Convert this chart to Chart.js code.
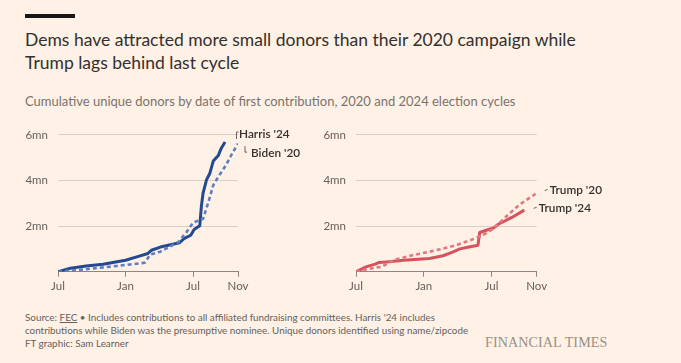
<!DOCTYPE html>
<html>
<head>
<meta charset="utf-8">
<script src="https://cdn.jsdelivr.net/npm/chart.js@4.4.1/dist/chart.umd.min.js"></script>
<style>
  html, body { margin:0; padding:0; background:#fff1e5; }
  body { width:681px; height:363px; position:relative; overflow:hidden; font-family: Lato, "Open Sans", sans-serif; }
  #bar { position:absolute; left:25px; top:14px; width:50px; height:3.5px; background:#1a1817; }
  #title { position:absolute; left:25px; top:28px; font-size:17.5px; line-height:23px; color:#33302e; letter-spacing:0px; white-space:nowrap; }
  #sub { position:absolute; left:25px; top:93px; font-size:13px; color:#7a736d; white-space:nowrap; }
  #src { position:absolute; left:25px; top:311px; font-size:9.85px; line-height:13px; color:#66605c; white-space:nowrap; }
  #src u { text-decoration: underline; }
  #ft { position:absolute; left:485px; top:334px; font-family:"Liberation Serif","DejaVu Serif",serif; font-size:15px; color:#999089; letter-spacing:0.1px; transform:scaleX(0.94); transform-origin:left; }
  .cw { position:absolute; top:118px; width:320px; height:185px; }
</style>
</head>
<body>
<div id="bar"></div>
<div id="title">Dems have attracted more small donors than their 2020 campaign while<br>Trump lags behind last cycle</div>
<div id="sub">Cumulative unique donors by date of first contribution, 2020 and 2024 election cycles</div>
<div id="src">Source: <u>FEC</u> • Includes contributions to all affiliated fundraising committees. Harris '24 includes<br>contributions while Biden was the presumptive nominee. Unique donors identified using name/zipcode<br>FT graphic: Sam Learner</div>
<div id="ft">FINANCIAL TIMES</div>
<div class="cw" style="left:0px;"><canvas id="c1" width="320" height="185"></canvas></div>
<div class="cw" style="left:300px;"><canvas id="c2" width="320" height="185"></canvas></div>
<script>
// months since 1 July of the year before the election; values in millions of donors
const xTickValues = [0, 6, 12, 16];
const xTickLabels = ["Jul", "Jan", "Jul", "Nov"];
const yTickValues = [0, 2, 4, 6];
const yTickLabels = ["", "2mn", "4mn", "6mn"];

const harris24 = [[0,0],[1.1,0.15],[2.5,0.25],[4,0.33],[6,0.5],[7,0.65],[8,0.8],[8.3,0.94],[9.1,1.08],[10,1.18],[10.8,1.27],[11.2,1.45],[11.8,1.6],[12.1,1.85],[12.6,2.02],[12.75,2.9],[12.9,3.46],[13.2,4.03],[13.5,4.32],[13.8,4.85],[14.25,5.1],[14.5,5.4],[14.85,5.69]];
const biden20 = [[0,0],[2.3,0.1],[5.2,0.25],[7.7,0.39],[8.2,0.75],[9.1,0.88],[10.7,1.3],[11.4,1.72],[12.0,2.15],[12.9,2.32],[13.4,3.1],[13.8,3.8],[14.3,4.2],[14.9,4.65],[15.5,5.2],[16,5.62]];
const trump24 = [[0,0],[0.95,0.22],[1.7,0.33],[2,0.4],[2.7,0.43],[4.2,0.5],[6.5,0.58],[7.7,0.7],[8.5,0.85],[9.2,1.0],[10.0,1.08],[10.8,1.16],[10.95,1.72],[11.6,1.83],[12.2,1.92],[12.6,2.08],[13.8,2.38],[14.9,2.7]];
const trump20 = [[0,0],[1.2,0.13],[2.3,0.22],[3.0,0.42],[3.6,0.55],[5,0.72],[7,0.93],[8.8,1.15],[10.5,1.45],[11.5,1.68],[12.2,1.9],[13.3,2.42],[14.5,2.95],[16,3.45]];

const labelsLeft = [
  {text:"Harris '24", x:16, y:6.04, dx:1, kind:"top"},
  {text:"Biden '20", x:16, y:5.2, dx:13, kind:"bottom"}
];
const labelsRight = [
  {text:"Trump '20", x:16, y:3.56, dx:13, kind:"dash"},
  {text:"Trump '24", x:16, y:2.78, dx:2, kind:"dash"}
];

const toPts = a => a.map(p => ({x:p[0], y:p[1]}));
const FONT = "Lato, 'Open Sans', sans-serif";

const labelPlugin = {
  id: 'lineLabels',
  afterDatasetsDraw(chart, args, opts) {
    const ctx = chart.ctx, xs = chart.scales.x, ys = chart.scales.y;
    ctx.save();
    ctx.font = "600 11.8px " + FONT;
    ctx.fillStyle = "#33302e";
    ctx.strokeStyle = "#66605c";
    ctx.lineWidth = 1;
    ctx.textBaseline = "middle";
    for (const l of opts.items) {
      const px = xs.getPixelForValue(l.x) + l.dx;
      const py = ys.getPixelForValue(l.y);
      ctx.beginPath();
      if (l.kind === "top") {
        ctx.moveTo(px - 2.5, py + 5); ctx.lineTo(px - 2.5, py - 2); ctx.lineTo(px - 0.5, py - 2);
      } else if (l.kind === "bottom") {
        ctx.moveTo(px - 6, py - 7); ctx.lineTo(px - 6, py - 1); ctx.lineTo(px - 4, py - 1);
      } else {
        ctx.moveTo(px - 5, py); ctx.lineTo(px - 2, py - 1);
      }
      ctx.stroke();
      ctx.fillText(l.text, px, py);
    }
    ctx.restore();
  }
};

function makeChart(id, datasets, items, yWidth, padRight) {
  return new Chart(document.getElementById(id), {
    type: 'line',
    data: { datasets },
    options: {
      responsive: false,
      animation: false,
      layout: { padding: { left: 0, right: padRight, top: 14.7, bottom: 0 } },
      plugins: { legend: { display: false }, tooltip: { enabled: false }, lineLabels: { items } },
      elements: { point: { radius: 0 }, line: { tension: 0, borderCapStyle: 'butt', borderJoinStyle: 'round' } },
      scales: {
        x: {
          type: 'linear', min: 0, max: 16,
          afterBuildTicks: s => { s.ticks = xTickValues.map(v => ({value: v})); },
          afterFit: s => { s.height = 31.3; },
          ticks: { callback: (v) => xTickLabels[xTickValues.indexOf(v)], color: '#66605c', font: { family: FONT, size: 11.5 }, padding: 3, maxRotation: 0, autoSkip: false },
          grid: { drawOnChartArea: false, drawTicks: true, tickLength: 5, color: '#8e8781', lineWidth: 1 },
          border: { display: true, color: '#8e8781', width: 1 }
        },
        y: {
          min: 0, max: 6,
          afterBuildTicks: s => { s.ticks = yTickValues.map(v => ({value: v})); },
          afterFit: s => { s.width = yWidth; },
          ticks: { callback: (v) => yTickLabels[yTickValues.indexOf(v)], color: '#66605c', font: { family: FONT, size: 11.5 }, padding: 10 },
          grid: { drawTicks: false, color: ctx => ctx.tick && ctx.tick.value === 0 ? 'rgba(0,0,0,0)' : '#d9cfc6', lineWidth: 1 },
          border: { display: false }
        }
      }
    },
    plugins: [labelPlugin]
  });
}

makeChart('c1', [
  { data: toPts(biden20), borderColor: '#5c7fc2', borderWidth: 2.6, borderDash: [4, 3] },
  { data: toPts(harris24), borderColor: '#24498f', borderWidth: 3 }
], labelsLeft, 58, 82);

makeChart('c2', [
  { data: toPts(trump20), borderColor: '#e2777f', borderWidth: 2.6, borderDash: [4, 3] },
  { data: toPts(trump24), borderColor: '#d6525d', borderWidth: 3 }
], labelsRight, 56, 83.3);
</script>
</body>
</html>
